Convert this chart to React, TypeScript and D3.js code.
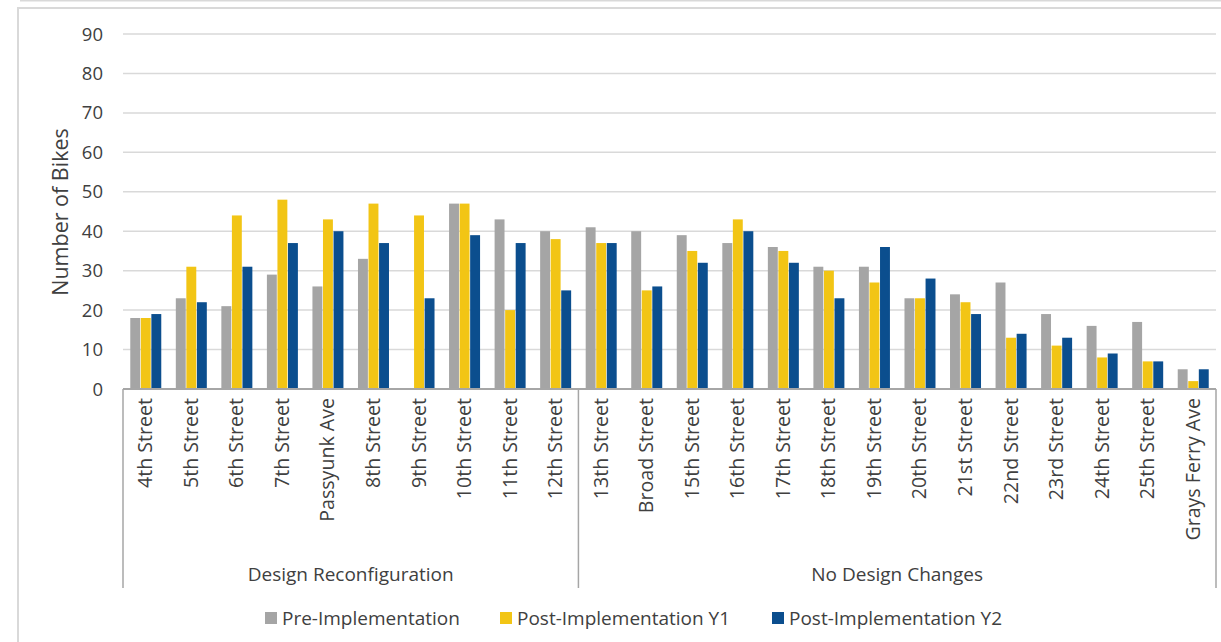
import { useEffect, useRef } from 'react';
import * as d3 from 'd3';

const width = 1221;
const height = 642;

const designStreets = ['4th Street', '5th Street', '6th Street', '7th Street', 'Passyunk Ave',
  '8th Street', '9th Street', '10th Street', '11th Street', '12th Street'];
const noDesignStreets = ['13th Street', 'Broad Street', '15th Street', '16th Street', '17th Street',
  '18th Street', '19th Street', '20th Street', '21st Street', '22nd Street', '23rd Street',
  '24th Street', '25th Street', 'Grays Ferry Ave'];
const groups = ['Design Reconfiguration', 'No Design Changes'];
const seriesNames = ['Pre-Implementation', 'Post-Implementation Y1', 'Post-Implementation Y2'];
const seriesColors = ['#a5a5a5', '#f2c515', '#0b4e8e'];

const preImpl = [18, 23, 21, 29, 26, 33, 0, 47, 43, 40,
  41, 40, 39, 37, 36, 31, 31, 23, 24, 27, 19, 16, 17, 5];
const postY1 = [18, 31, 44, 48, 43, 47, 44, 47, 20, 38,
  37, 25, 35, 43, 35, 30, 27, 23, 22, 13, 11, 8, 7, 2];
const postY2 = [19, 22, 31, 37, 40, 37, 23, 39, 37, 25,
  37, 26, 32, 40, 32, 23, 36, 28, 19, 14, 13, 9, 7, 5];

const yTicks = [0, 10, 20, 30, 40, 50, 60, 70, 80, 90];

const font = '"Open Sans", "Noto Sans", sans-serif';
const textColor = '#404040';

function drawChart(node: SVGSVGElement) {
  const svg = d3.select(node);
  svg.selectAll('*').remove();

  const streets = designStreets.concat(noDesignStreets);
  const rows = streets.map((s, i) => ({ street: s, values: [preImpl[i], postY1[i], postY2[i]] }));

  const x = d3.scaleBand().domain(streets).range([123, 1216]).padding(0);
  const y = d3.scaleLinear().domain([0, 90]).range([389, 34]);
  const inner = d3.scaleBand().domain(['0', '1', '2']).range([-15.5, 15.5]).paddingInner(0.06);

  // outer frame
  svg.append('line')
    .attr('x1', 20).attr('x2', width).attr('y1', 0.5).attr('y2', 0.5)
    .attr('stroke', '#d9d9d9').attr('stroke-width', 2);
  svg.append('path')
    .attr('d', `M18,${height} V8 H${width}`)
    .attr('fill', 'none')
    .attr('stroke', '#d9d9d9')
    .attr('stroke-width', 2);

  // grid
  svg.append('g')
    .selectAll('line')
    .data(yTicks.filter(t => t > 0))
    .join('line')
    .attr('x1', 123).attr('x2', 1216)
    .attr('y1', d => y(d)).attr('y2', d => y(d))
    .attr('stroke', '#d9d9d9')
    .attr('stroke-width', 1.5);

  svg.append('g')
    .selectAll('text')
    .data(yTicks)
    .join('text')
    .attr('x', 103)
    .attr('y', d => y(d) + 6.5)
    .attr('text-anchor', 'end')
    .attr('font-family', font)
    .attr('font-size', 18.5)
    .attr('fill', textColor)
    .text(d => d);

  svg.append('text')
    .attr('transform', `translate(68, 212) rotate(-90)`)
    .attr('text-anchor', 'middle')
    .attr('font-family', font)
    .attr('font-size', 21.5)
    .attr('fill', textColor)
    .text('Number of Bikes');

  // bars
  const bars = svg.append('g')
    .selectAll('g')
    .data(rows)
    .join('g')
    .attr('transform', d => 'translate(' + ((x(d.street) as number) + x.bandwidth() / 2) + ', 0)');

  bars.selectAll('rect')
    .data(d => d.values.map((v, i) => ({ v, i })))
    .join('rect')
    .attr('x', d => inner(String(d.i)) as number)
    .attr('width', inner.bandwidth())
    .attr('y', d => y(d.v))
    .attr('height', d => y(0) - y(d.v))
    .attr('fill', d => seriesColors[d.i]);

  // category axis
  svg.append('line')
    .attr('x1', 123).attr('x2', 1216).attr('y1', 389).attr('y2', 389)
    .attr('stroke', '#a6a6a6').attr('stroke-width', 2);

  const bounds = [streets[0], noDesignStreets[0]].map(s => x(s) as number).concat([1216]);
  svg.append('g')
    .selectAll('line')
    .data(bounds)
    .join('line')
    .attr('x1', d => d).attr('x2', d => d)
    .attr('y1', 389).attr('y2', 588)
    .attr('stroke', '#a6a6a6')
    .attr('stroke-width', 1.5);

  svg.append('g')
    .selectAll('text')
    .data(streets)
    .join('text')
    .attr('transform', d => 'translate(' + ((x(d) as number) + x.bandwidth() / 2 + 6.5) + ', 398) rotate(-90)')
    .attr('text-anchor', 'end')
    .attr('font-family', font)
    .attr('font-size', 19.6)
    .attr('fill', textColor)
    .text(d => d);

  svg.append('g')
    .selectAll('text')
    .data(groups)
    .join('text')
    .attr('x', (d, i) => (bounds[i] + bounds[i + 1]) / 2)
    .attr('y', 581)
    .attr('text-anchor', 'middle')
    .attr('font-family', font)
    .attr('font-size', 19)
    .attr('fill', textColor)
    .text(d => d);

  // legend
  const legendX = [265, 500, 772];
  const legend = svg.append('g')
    .selectAll('g')
    .data(seriesNames)
    .join('g')
    .attr('transform', (d, i) => 'translate(' + legendX[i] + ', 618)');
  legend.append('rect')
    .attr('x', 0).attr('y', -6).attr('width', 12).attr('height', 12)
    .attr('fill', (d, i) => seriesColors[i]);
  legend.append('text')
    .attr('x', 17).attr('y', 6.5)
    .attr('font-family', font)
    .attr('font-size', 19)
    .attr('fill', textColor)
    .text(d => d);
}

export default function App() {
  const ref = useRef<SVGSVGElement>(null);

  useEffect(() => {
    if (ref.current) drawChart(ref.current);
  }, []);

  return (
    <svg ref={ref} width={width} height={height}
      style={{ position: 'absolute', left: 0, top: 0, background: '#fff' }} />
  );
}
